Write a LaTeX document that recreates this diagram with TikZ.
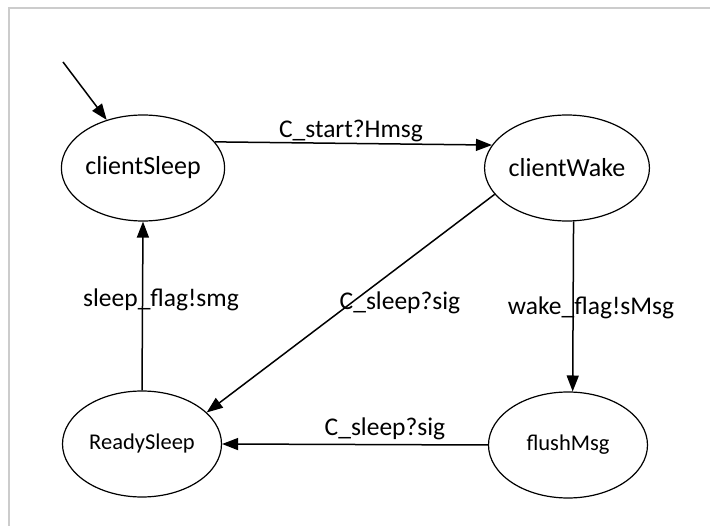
\documentclass[tikz,border=0pt]{standalone}
\usepackage{fontspec}
\setmainfont{Carlito}
\usetikzlibrary{arrows.meta,shapes.geometric}
\tikzset{
  state/.style={ellipse,draw,line width=1.2pt,minimum width=159pt,minimum height=106pt,inner sep=0pt,font=\fontsize{26}{31}\selectfont},
  smallstate/.style={state,font=\fontsize{22.5}{27}\selectfont},
  trans/.style={line width=1.5pt,-{Triangle[length=16pt,width=12pt]}},
  lbl/.style={anchor=base,inner sep=0pt,font=\fontsize{25.5}{30}\selectfont},
  frame/.style={draw=black!20,line width=1.2pt}
}
\begin{document}
\begin{tikzpicture}[x=1pt,y=-1pt]
\useasboundingbox (0,0) rectangle (710,526);
\draw[frame] (9,526) -- (9,8) -- (710,8);
\node[state] (cs) at (143,168) {clientSleep};
\node[state] (cw) at (567,168) {clientWake};
\node[smallstate] (rs) at (142,444) {ReadySleep};
\node[smallstate] (fm) at (568,445) {flushMsg};
\coordinate (init) at (63,62);
\draw[trans] (init) -- (cs);
\draw[trans] (cs.20) -- (cw.163);
\draw[trans] (cw.200) -- (rs.26);
\draw[trans] (cw.-83.5) -- (fm.85);
\draw[trans] (fm.west) -- (rs.east);
\draw[trans] (rs.north) -- (cs.south);
\node[lbl] (l1) at (351,138) {C\_start?Hmsg};
\node[lbl] (l2) at (400,310) {C\_sleep?sig};
\node[lbl] (l3) at (385,436) {C\_sleep?sig};
\node[lbl] (l4) at (161,307) {sleep\_flag!smg};
\node[lbl] (l5) at (591,315) {wake\_flag!sMsg};
\end{tikzpicture}
\end{document}
